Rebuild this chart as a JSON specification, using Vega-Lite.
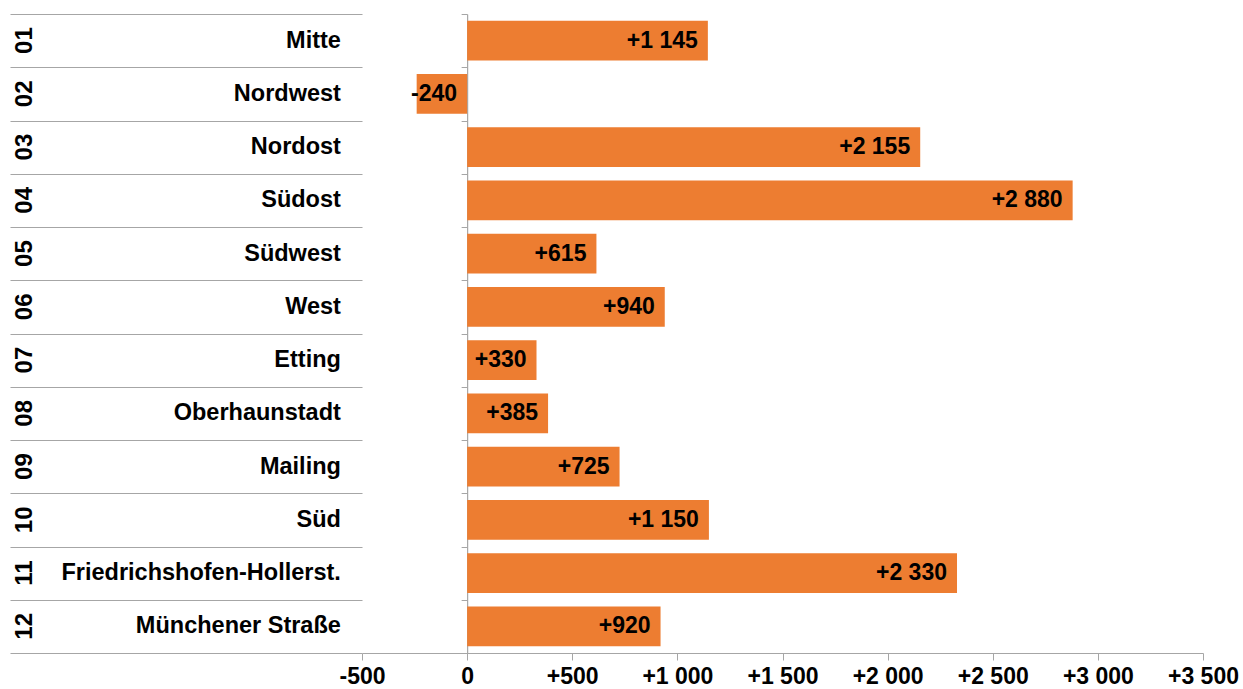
{
  "$schema": "https://vega.github.io/schema/vega-lite/v6.json",
  "padding": {"left": 10, "top": 13, "right": 0, "bottom": 0},
  "bounds": "flush",
  "config": {
    "locale": {"number": {"decimal": ",", "thousands": " ", "grouping": [3], "currency": ["", " €"], "minus": "-"}},
    "view": {"stroke": null},
    "font": "Liberation Sans",
    "concat": {"spacing": 0}
  },
  "data": {"values": [
    {"code": "01", "name": "Mitte", "value": 1145},
    {"code": "02", "name": "Nordwest", "value": -240},
    {"code": "03", "name": "Nordost", "value": 2155},
    {"code": "04", "name": "Südost", "value": 2880},
    {"code": "05", "name": "Südwest", "value": 615},
    {"code": "06", "name": "West", "value": 940},
    {"code": "07", "name": "Etting", "value": 330},
    {"code": "08", "name": "Oberhaunstadt", "value": 385},
    {"code": "09", "name": "Mailing", "value": 725},
    {"code": "10", "name": "Süd", "value": 1150},
    {"code": "11", "name": "Friedrichshofen-Hollerst.", "value": 2330},
    {"code": "12", "name": "Münchener Straße", "value": 920}
  ]},
  "hconcat": [
    {
      "width": 352,
      "height": 639,
      "layer": [
        {
          "mark": {"type": "text", "angle": 270, "fontWeight": "bold", "fontSize": 24, "align": "center", "baseline": "middle", "color": "#000000"},
          "encoding": {
            "y": {"field": "code", "type": "nominal", "scale": {"paddingInner": 0, "paddingOuter": 0},
                  "axis": {"title": null, "labels": false, "ticks": false, "domain": false, "grid": true, "tickBand": "extent", "gridColor": "#A6A6A6", "gridWidth": 1.2, "gridOpacity": 1, "minExtent": 0, "maxExtent": 0}},
            "x": {"datum": 4.4, "type": "quantitative", "scale": {"domain": [0, 100]}, "axis": null},
            "text": {"field": "code"}
          }
        },
        {
          "mark": {"type": "text", "fontWeight": "bold", "fontSize": 23.5, "align": "right", "baseline": "middle", "color": "#000000"},
          "encoding": {
            "y": {"field": "code", "type": "nominal"},
            "x": {"datum": 94, "type": "quantitative"},
            "text": {"field": "name"}
          }
        }
      ]
    },
    {
      "width": 841,
      "height": 639,
      "layer": [
        {
          "mark": {"type": "bar", "color": "#ED7D31", "height": {"band": 0.75}},
          "encoding": {
            "y": {"field": "code", "type": "nominal", "scale": {"paddingInner": 0, "paddingOuter": 0},
                  "axis": {"title": null, "labels": false, "tickBand": "extent", "tickSize": 6, "tickColor": "#A6A6A6", "domainColor": "#A6A6A6", "domainWidth": 1.2, "offset": -105.125, "grid": false, "minExtent": 0, "maxExtent": 0}},
            "x": {"field": "value", "type": "quantitative", "scale": {"domain": [-500, 3500], "nice": false},
                  "axis": {"title": null, "values": [-500, 0, 500, 1000, 1500, 2000, 2500, 3000, 3500],
                           "labelExpr": "datum.value > 0 ? '+' + format(datum.value, ',d') : format(datum.value, ',d')",
                           "labelFontSize": 23, "labelFontWeight": "bold", "labelColor": "#000000",
                           "labelFlush": false, "labelOverlap": false,
                           "tickSize": 7, "tickColor": "#A6A6A6", "domainColor": "#A6A6A6", "domainWidth": 1.2,
                           "grid": false, "labelPadding": 5}}
          }
        },
        {
          "transform": [{"filter": "datum.value >= 0"}],
          "mark": {"type": "text", "align": "right", "baseline": "middle", "dx": -10, "fontWeight": "bold", "fontSize": 23, "color": "#000000"},
          "encoding": {
            "y": {"field": "code", "type": "nominal"},
            "x": {"field": "value", "type": "quantitative"},
            "text": {"field": "value", "type": "quantitative", "format": "+,d"}
          }
        },
        {
          "transform": [{"filter": "datum.value < 0"}],
          "mark": {"type": "text", "align": "right", "baseline": "middle", "dx": -10, "fontWeight": "bold", "fontSize": 23, "color": "#000000"},
          "encoding": {
            "y": {"field": "code", "type": "nominal"},
            "x": {"datum": 0, "type": "quantitative"},
            "text": {"field": "value", "type": "quantitative", "format": "+,d"}
          }
        }
      ]
    }
  ]
}
